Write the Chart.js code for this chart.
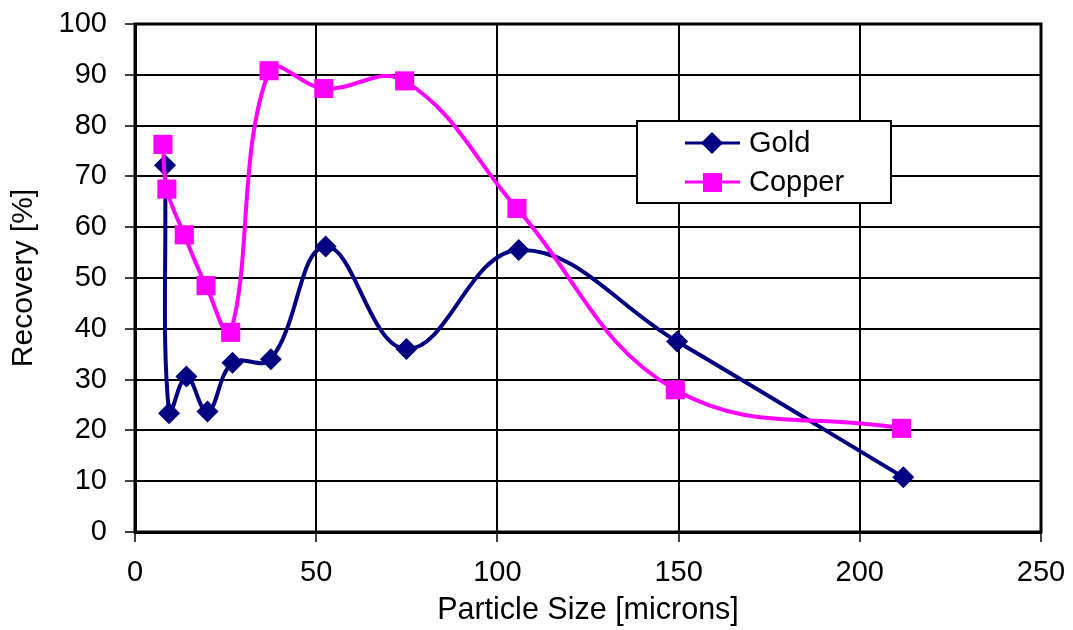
<!DOCTYPE html>
<html>
<head>
<meta charset="utf-8">
<script src="https://cdn.jsdelivr.net/npm/chart.js@4/dist/chart.umd.min.js"></script>
<style>
  html, body { margin: 0; padding: 0; background: #fff; }
  #wrap { width: 1073px; height: 630px; }
</style>
</head>
<body>
<div id="wrap"><canvas id="myChart"></canvas></div>
<script>
// particle size [microns] and recovery [%]
const goldSize = [8.3, 9.4, 14.2, 20.0, 26.9, 37.5, 52.6, 74.9, 105.9, 149.6, 212];
const goldRecovery = [72.2, 23.4, 30.6, 23.7, 33.3, 34.0, 56.2, 36.0, 55.5, 37.5, 10.8];
const copperSize = [7.7, 8.8, 13.6, 19.6, 26.4, 37.0, 52.1, 74.4, 105.4, 149.1, 211.5];
const copperRecovery = [76.3, 67.5, 58.5, 48.5, 39.3, 90.8, 87.3, 88.8, 63.7, 28.0, 20.4];
const seriesNames = ['Gold', 'Copper'];
const xTicks = [0, 50, 100, 150, 200, 250];
const yTicks = [0, 10, 20, 30, 40, 50, 60, 70, 80, 90, 100];

const FONT = '"Liberation Sans", Arial, sans-serif';

function toPoints(xs, ys) {
  return xs.map((x, i) => ({ x: x, y: ys[i] }));
}

// frame round the plot area (top + right sides are not axes)
const frame = {
  id: 'frame',
  afterDraw(chart) {
    const a = chart.chartArea;
    const ctx = chart.ctx;
    ctx.save();
    ctx.strokeStyle = '#000';
    ctx.lineWidth = 3;
    ctx.strokeRect(a.left, a.top, a.right - a.left, a.bottom - a.top);
    ctx.restore();
  }
};

// boxed legend sitting inside the plot
const boxLegend = {
  id: 'boxLegend',
  afterDraw(chart) {
    const ctx = chart.ctx;
    const x0 = 637, y0 = 121, w = 254, h = 82;
    ctx.save();
    ctx.fillStyle = '#fff';
    ctx.fillRect(x0, y0, w, h);
    ctx.strokeStyle = '#000';
    ctx.lineWidth = 2;
    ctx.strokeRect(x0, y0, w, h);
    const rows = [
      { name: seriesNames[0], color: '#000080', shape: 'diamond', y: y0 + 22 },
      { name: seriesNames[1], color: '#ff00ff', shape: 'square', y: y0 + 61 }
    ];
    rows.forEach(r => {
      ctx.strokeStyle = r.color;
      ctx.lineWidth = 3;
      ctx.beginPath();
      ctx.moveTo(685, r.y);
      ctx.lineTo(740, r.y);
      ctx.stroke();
      ctx.fillStyle = r.color;
      ctx.beginPath();
      if (r.shape === 'diamond') {
        ctx.moveTo(712, r.y - 11);
        ctx.lineTo(723, r.y);
        ctx.lineTo(712, r.y + 11);
        ctx.lineTo(701, r.y);
        ctx.closePath();
      } else {
        ctx.rect(703, r.y - 9, 19, 19);
      }
      ctx.fill();
      ctx.fillStyle = '#000';
      ctx.font = '29px ' + FONT;
      ctx.textBaseline = 'middle';
      ctx.textAlign = 'left';
      ctx.fillText(r.name, 749, r.y + 1);
    });
    ctx.restore();
  }
};

const chartEl = document.getElementById('myChart');
const myChart = new Chart(chartEl, {
  type: 'scatter',
  data: {
    datasets: [{
      label: seriesNames[0],
      data: toPoints(goldSize, goldRecovery),
      showLine: true,
      borderColor: '#000080',
      backgroundColor: '#000080',
      borderWidth: 4,
      pointStyle: 'rectRot',
      pointRadius: 11,
      pointBorderWidth: 0,
      tension: 0.4,
      order: 1
    }, {
      label: seriesNames[1],
      data: toPoints(copperSize, copperRecovery),
      showLine: true,
      borderColor: '#ff00ff',
      backgroundColor: '#ff00ff',
      borderWidth: 4,
      pointStyle: 'rect',
      pointRadius: 13.5,
      pointBorderWidth: 0,
      tension: 0.4,
      order: 0
    }]
  },
  options: {
    responsive: true,
    maintainAspectRatio: false,
    animation: false,
    layout: { autoPadding: false, padding: { top: 24, right: 32, left: 0, bottom: 0 } },
    plugins: {
      legend: { display: false },
      tooltip: { enabled: false }
    },
    scales: {
      x: {
        type: 'linear',
        min: 0,
        max: 250,
        afterBuildTicks: s => { s.ticks = xTicks.map(v => ({ value: v })); },
        afterFit: s => { s.height = 98; s.paddingLeft = 0; s.paddingRight = 0; },
        grid: { color: '#000', lineWidth: 2, tickLength: 10, tickWidth: 1.5 },
        border: { color: '#000', width: 3 },
        ticks: { color: '#000', padding: 14, font: { family: FONT, size: 29 } },
        title: {
          display: true,
          text: 'Particle Size [microns]',
          color: '#000',
          font: { family: FONT, size: 30.5 },
          padding: { top: 0, bottom: 1 }
        }
      },
      y: {
        type: 'linear',
        min: 0,
        max: 100,
        afterBuildTicks: s => { s.ticks = yTicks.map(v => ({ value: v })); },
        afterFit: s => { s.width = 135; s.paddingTop = 0; s.paddingBottom = 0; },
        grid: { color: '#000', lineWidth: 2, tickLength: 10, tickWidth: 1.5 },
        border: { color: '#000', width: 3 },
        ticks: { color: '#000', padding: 18, font: { family: FONT, size: 29 } },
        title: {
          display: true,
          text: 'Recovery [%]',
          color: '#000',
          font: { family: FONT, size: 30 },
          padding: { top: 6, bottom: 0 }
        }
      }
    }
  },
  plugins: [frame, boxLegend]
});
</script>
</body>
</html>
